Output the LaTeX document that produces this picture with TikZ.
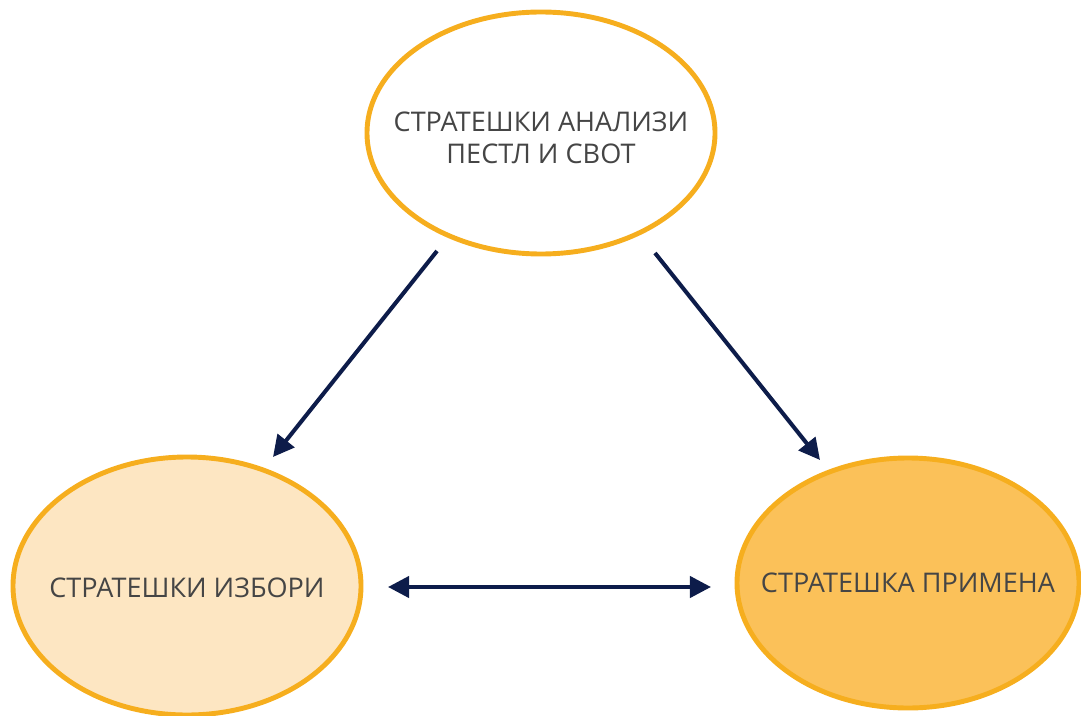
\documentclass[tikz,border=0pt]{standalone}
\usepackage{fontspec}
\setmainfont{Open Sans}
\usetikzlibrary{shapes.geometric,arrows.meta}
\definecolor{ringc}{HTML}{F6AE1E}
\definecolor{lightfill}{HTML}{FDE6C2}
\definecolor{darkfill}{HTML}{FBC159}
\definecolor{navy}{HTML}{0D1C4A}
\definecolor{txt}{HTML}{454545}
\tikzset{
  bubble/.style={ellipse, draw=ringc, line width=2.8pt, inner sep=0pt},
  bubbletext/.style={text=txt, font=\fontsize{15.4}{18.2}\selectfont, align=center},
  conn/.style={draw=navy, line width=2.3pt, -{Triangle[length=12pt,width=12pt]}},
  biconn/.style={draw=navy, line width=2.3pt, {Triangle[length=12pt,width=12pt]}-{Triangle[length=12pt,width=12pt]}}
}
\begin{document}
\begin{tikzpicture}[x=0.02cm,y=-0.02cm]
\useasboundingbox (0,0) rectangle (1081,716);
\node[bubble, fill=white, minimum width=348*0.02cm, minimum height=242*0.02cm,
  label={[bubbletext, yshift=-2.5pt]center:СТРАТЕШКИ АНАЛИЗИ\\ПЕСТЛ И СВОТ}] (top) at (541,133) {};
\node[bubble, fill=lightfill, minimum width=348*0.02cm, minimum height=258*0.02cm,
  label={[bubbletext, yshift=-1pt]center:СТРАТЕШКИ ИЗБОРИ}] (left) at (187,586) {};
\node[bubble, fill=darkfill, minimum width=342*0.02cm, minimum height=250*0.02cm,
  label={[bubbletext]center:СТРАТЕШКА ПРИМЕНА}] (right) at (908,583) {};
\coordinate (s1) at (437,251);
\coordinate (e1) at (273,457);
\coordinate (s2) at (655,253);
\coordinate (e2) at (820,460);
\coordinate (s3) at (388,587);
\coordinate (e3) at (711,587);
\draw[conn] (s1) -- (e1);
\draw[conn] (s2) -- (e2);
\draw[biconn] (s3) -- (e3);
\end{tikzpicture}
\end{document}
